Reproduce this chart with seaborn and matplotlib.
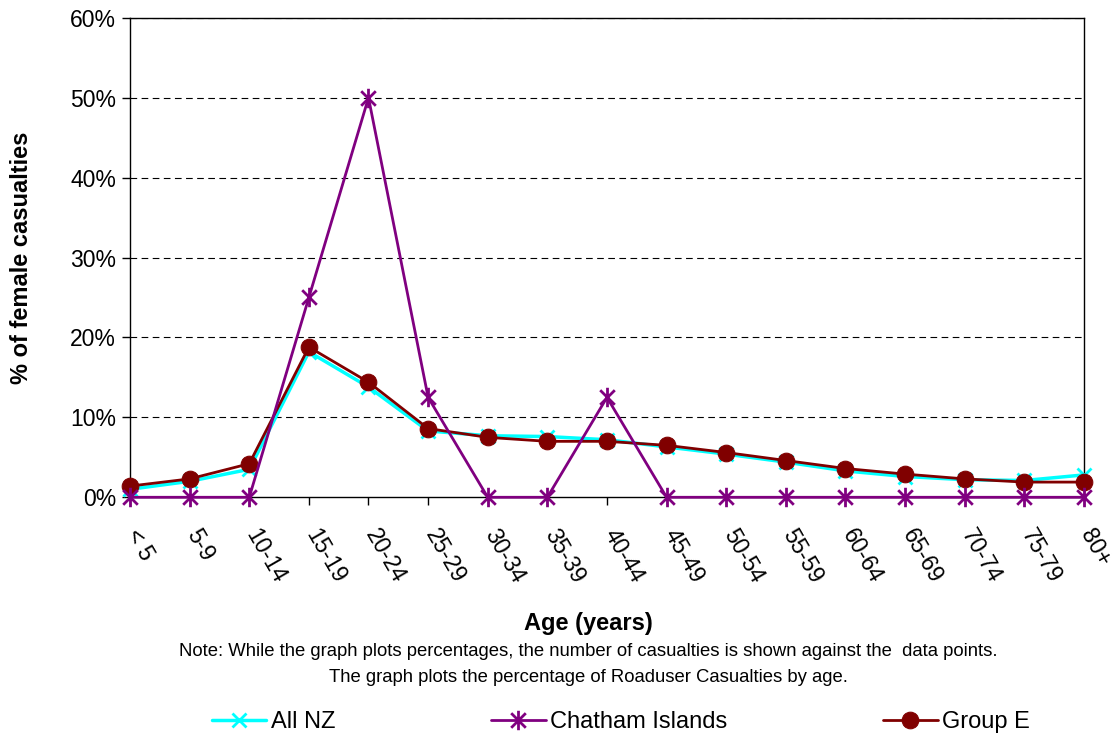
import matplotlib
matplotlib.use("Agg")
import matplotlib.pyplot as plt
import matplotlib.transforms as mtransforms
from matplotlib.path import Path
import seaborn as sns
import pandas as pd
import numpy as np
from matplotlib.ticker import FuncFormatter, MultipleLocator

ages = ["< 5", "5-9", "10-14", "15-19", "20-24", "25-29", "30-34", "35-39", "40-44",
        "45-49", "50-54", "55-59", "60-64", "65-69", "70-74", "75-79", "80+"]
all_nz = [1.0, 2.0, 3.5, 18.2, 13.8, 8.3, 7.7, 7.6, 7.2, 6.3, 5.4, 4.4, 3.3, 2.6, 2.2, 2.1, 2.8]
chatham = [0, 0, 0, 25, 50, 12.5, 0, 0, 12.5, 0, 0, 0, 0, 0, 0, 0, 0]
group_e = [1.4, 2.3, 4.2, 18.8, 14.4, 8.6, 7.5, 7.0, 7.0, 6.5, 5.6, 4.6, 3.6, 2.9, 2.3, 1.9, 1.9]

sns.set_theme(style="white")
plt.rcParams['font.family'] = ['Liberation Sans', 'DejaVu Sans']
plt.rcParams['text.color'] = 'black'
plt.rcParams['axes.labelcolor'] = 'black'

star = Path([(0, -1), (0, 1), (-0.75, -0.75), (0.75, 0.75), (-0.75, 0.75), (0.75, -0.75)],
            [Path.MOVETO, Path.LINETO, Path.MOVETO, Path.LINETO, Path.MOVETO, Path.LINETO])

fig = plt.figure(figsize=(11.17, 7.4), dpi=100)
ax = fig.add_axes([0.1164, 0.328, 0.854, 0.648])

pos = np.arange(len(ages))
df = pd.DataFrame({"pos": pos, "All NZ": all_nz, "Chatham Islands": chatham, "Group E": group_e})

sns.lineplot(data=df, x="pos", y="All NZ", ax=ax, color="#00FFFF", marker="x",
             markersize=10, markeredgewidth=2, markeredgecolor="#00FFFF",
             linewidth=2.5, label="All NZ", zorder=3, clip_on=False)
sns.lineplot(data=df, x="pos", y="Group E", ax=ax, color="#800000", marker="o",
             markersize=12, markeredgecolor="#800000", markerfacecolor="#800000",
             linewidth=2, label="Group E", zorder=4, clip_on=False)
sns.lineplot(data=df, x="pos", y="Chatham Islands", ax=ax, color="#800080", marker=star,
             markersize=14, markeredgewidth=2, markeredgecolor="#800080",
             linewidth=2, label="Chatham Islands", zorder=5, clip_on=False)

ax.set_xlim(0, len(ages) - 1)
ax.set_ylim(0, 60)
ax.yaxis.set_major_locator(MultipleLocator(10))
ax.yaxis.set_major_formatter(FuncFormatter(lambda v, p: f"{int(v)}%"))
ax.set_xticks(pos)
ax.set_xticklabels(ages, rotation=-60, ha="left", va="top", rotation_mode="anchor", fontsize=16.5)
ax.tick_params(axis="y", labelsize=16.5, direction="out", length=6, width=1, colors="black", left=True, pad=4)
ax.tick_params(axis="x", direction="out", length=6, width=1, colors="black", bottom=True, pad=14)
offset = mtransforms.ScaledTranslation(0.12, 0, fig.dpi_scale_trans)
for lbl in ax.get_xticklabels():
    lbl.set_transform(lbl.get_transform() + offset)

for y in range(10, 70, 10):
    ax.axhline(y, color="black", linestyle=(0, (6, 4)), linewidth=0.8, zorder=1)

for s in ax.spines.values():
    s.set_visible(True)
    s.set_color("black")
    s.set_linewidth(1)

ax.set_xlabel("Age (years)", fontsize=17, fontweight="bold")
ax.xaxis.set_label_coords(0.481, -0.24)
ax.set_ylabel("% of female casualties", fontsize=17, fontweight="bold")
ax.yaxis.set_label_coords(-0.102, 0.5)

fig.text(0.527, 0.12, "Note: While the graph plots percentages, the number of casualties is shown against the  data points.",
         ha="center", va="center", fontsize=13.3)
fig.text(0.527, 0.085, "The graph plots the percentage of Roaduser Casualties by age.",
         ha="center", va="center", fontsize=13.3)

handles, labels = ax.get_legend_handles_labels()
order = [labels.index("All NZ"), labels.index("Chatham Islands"), labels.index("Group E")]
ax.get_legend().remove()
fig.legend([handles[i] for i in order], [labels[i] for i in order], loc="center",
           bbox_to_anchor=(0.556, 0.024), ncol=3, frameon=False, fontsize=17,
           columnspacing=6.6, handlelength=2.3, handletextpad=0.2)

fig.savefig("out.png", dpi=100)
